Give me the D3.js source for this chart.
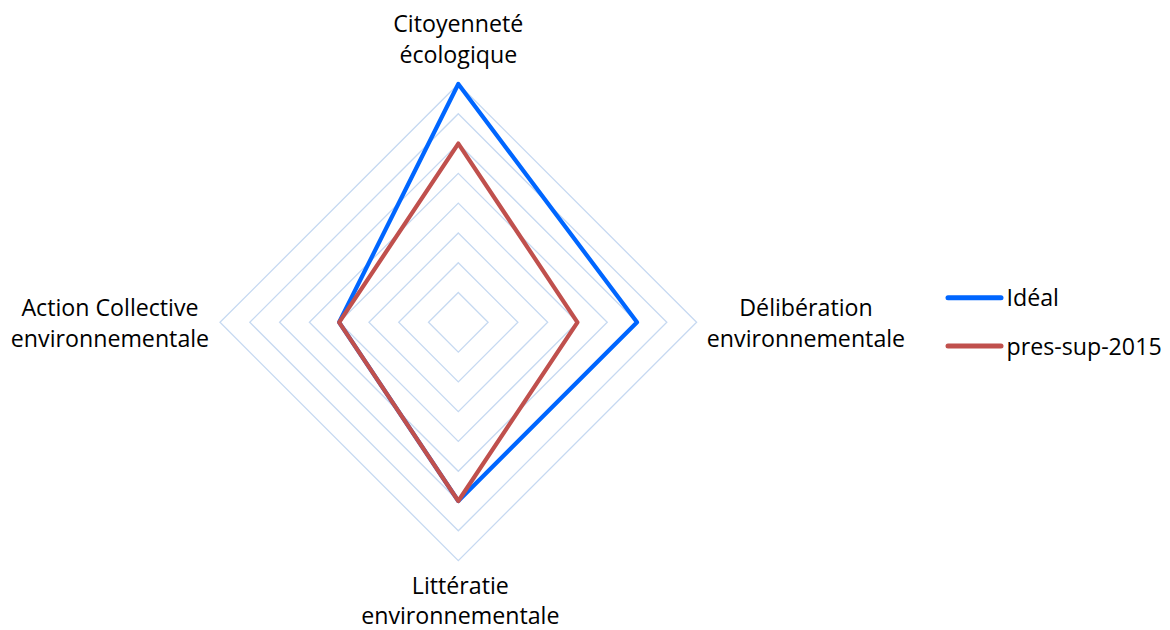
<!DOCTYPE html>
<html>
<head>
<meta charset="utf-8">
<script src="https://cdn.jsdelivr.net/npm/d3@7"></script>
<style>
  html, body { margin: 0; padding: 0; background: #fff; }
  svg { display: block; }
  text { font-family: "Open Sans", Lato, sans-serif; fill: #000; font-variant-ligatures: none; }
</style>
</head>
<body>
<svg id="chart" width="1170" height="630"></svg>
<script>
const axes = [
  ["Citoyenneté", "écologique"],
  ["Délibération", "environnementale"],
  ["Littératie", "environnementale"],
  ["Action Collective", "environnementale"]
];
const seriesNames = ["Idéal", "pres-sup-2015"];
const idealValues = [8, 6, 6, 4];
const presValues = [6, 4, 6, 4];
const ringLevels = [1, 2, 3, 4, 5, 6, 7, 8];
const colors = ["#0066ff", "#c0504d"];

const svg = d3.select("#chart");
const cx = 458.3, cy = 322.3, R = 238.3;
const rScale = d3.scaleLinear().domain([0, 8]).range([0, R]);
const angle = d3.scalePoint().domain(d3.range(axes.length)).range([0, 2 * Math.PI * (axes.length - 1) / axes.length]);

const g = svg.append("g").attr("transform", `translate(${cx},${cy})`);

const radial = d3.lineRadial()
  .angle((d, i) => angle(i))
  .radius(d => rScale(d))
  .curve(d3.curveLinearClosed);

// grid rings
g.selectAll("path.ring").data(ringLevels).join("path")
  .attr("class", "ring")
  .attr("d", lv => radial(axes.map(() => lv)))
  .attr("fill", "none")
  .attr("stroke", "#c6d9f1")
  .attr("stroke-width", 1.3);

// series
const series = [idealValues, presValues];
g.selectAll("path.series").data(series).join("path")
  .attr("class", "series")
  .attr("d", d => radial(d))
  .attr("fill", "none")
  .attr("stroke", (d, i) => colors[i])
  .attr("stroke-width", 4.2)
  .attr("stroke-linejoin", "round");

// axis labels
const fs = 23.2;
const labelPos = [
  {x: cx, y: 32, dy: 30.5},
  {x: 806, y: 316, dy: 30.5},
  {x: cx + 2, y: 594, dy: 29.5},
  {x: 110, y: 316, dy: 30.5}
];
axes.forEach((lines, i) => {
  const p = labelPos[i];
  const t = svg.append("text")
    .attr("x", p.x).attr("y", p.y)
    .attr("text-anchor", "middle")
    .attr("font-size", fs);
  lines.forEach((ln, j) => {
    t.append("tspan").attr("x", p.x).attr("y", p.y + j * p.dy).text(ln);
  });
});

// legend
const legend = svg.append("g");
seriesNames.forEach((name, i) => {
  const y = 297.7 + i * 48.3;
  legend.append("line")
    .attr("x1", 948).attr("x2", 1001)
    .attr("y1", y).attr("y2", y)
    .attr("stroke", colors[i])
    .attr("stroke-width", 5)
    .attr("stroke-linecap", "round");
  legend.append("text")
    .attr("x", 1006.5).attr("y", y + 8.5)
    .attr("font-size", fs)
    .text(name);
});
</script>
</body>
</html>
